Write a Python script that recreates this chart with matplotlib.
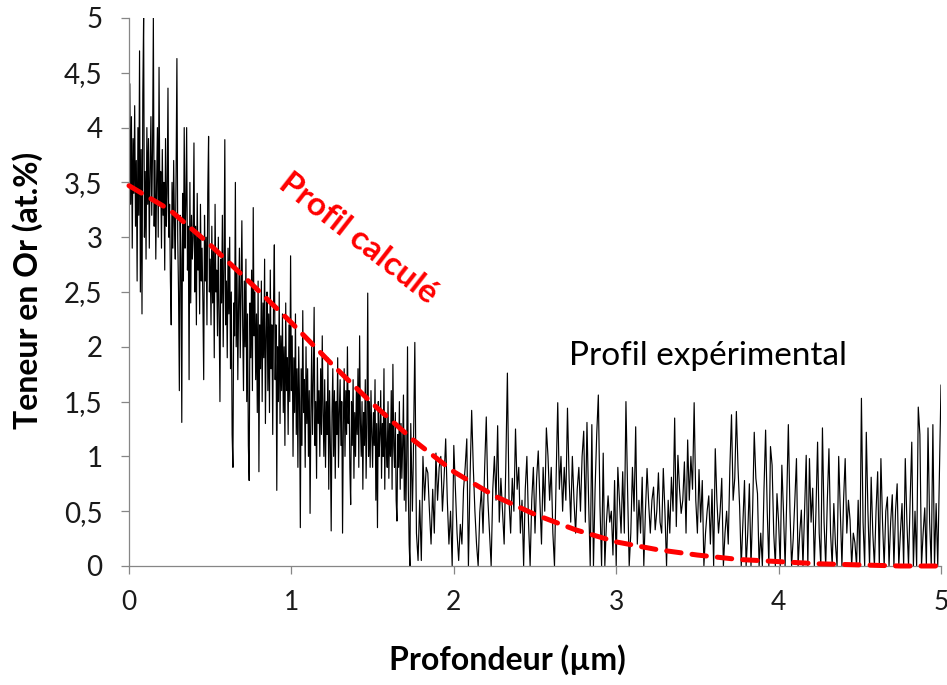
import numpy as np
import matplotlib
matplotlib.use("Agg")
import matplotlib.pyplot as plt

plt.rcParams['font.family'] = ['Lato', 'DejaVu Sans']

# ---- experimental profile (dense part: 0 -> 1.745 um, step 0.005 um) ----
dense_start = 0.0
dense_step = 0.005
exp_dense = [
    3.0, 4.4, 3.3, 4.1, 2.9, 3.9, 3.4, 4.2, 3.1, 3.7,
    2.6, 4.0, 3.2, 4.7, 2.5, 3.8, 2.3, 4.3, 5.0, 3.0,
    3.6, 2.8, 4.0, 3.3, 3.9, 2.9, 3.6, 4.1, 3.2, 3.8,
    5.0, 3.1, 3.7, 2.8, 3.5, 4.0, 3.0, 4.55, 3.3, 3.6,
    2.9, 3.8, 3.2, 3.5, 2.7, 3.9, 3.1, 3.4, 4.36, 3.0,
    3.3, 2.6, 2.2, 3.5, 2.9, 3.7, 3.1, 2.8, 3.6, 4.63,
    3.0, 2.5, 1.6, 3.2, 2.8, 1.31, 3.4, 2.6, 4.0, 2.9,
    3.3, 4.0, 2.7, 3.1, 1.7, 3.5, 2.4, 3.2, 2.8, 3.0,
    3.86, 2.5, 3.1, 2.2, 3.4, 2.7, 3.0, 2.3, 3.3, 2.6,
    2.9, 2.4, 1.7, 3.2, 2.6, 3.0, 2.2, 3.4, 3.92, 2.5,
    2.8, 2.2, 3.1, 2.4, 2.9, 1.9, 3.3, 2.5, 2.7, 2.1,
    3.0, 2.3, 1.5, 2.8, 2.4, 3.2, 2.0, 2.7, 3.89, 2.2,
    2.6, 1.9, 2.9, 2.3, 3.0, 1.8, 2.5, 1.2, 0.9, 2.4,
    2.1, 3.5, 2.0, 2.7, 1.7, 2.4, 2.9, 1.9, 2.5, 3.15,
    2.2, 1.6, 2.6, 2.0, 2.8, 1.5, 2.3, 1.1, 0.78, 2.4,
    1.9, 2.7, 1.6, 3.27, 2.1, 2.5, 1.7, 2.3, 1.4, 2.6,
    0.86, 2.2, 1.8, 2.6, 1.5, 2.4, 1.9, 2.8, 1.3, 2.1,
    2.5, 1.6, 2.3, 1.4, 2.7, 1.8, 2.2, 1.2, 2.4, 2.93,
    1.7, 2.2, 0.69, 2.0, 1.5, 2.5, 1.3, 2.1, 1.6, 2.3,
    1.4, 2.0, 1.1, 2.4, 1.6, 1.9, 1.2, 2.2, 1.5, 2.83,
    1.6, 2.1, 1.0, 1.9, 1.4, 2.3, 1.2, 1.8, 0.9, 2.0,
    1.5, 0.35, 1.8, 1.1, 2.33, 1.4, 1.7, 0.9, 2.0, 1.3,
    1.8, 1.0, 1.6, 0.48, 1.4, 2.0, 1.2, 1.7, 2.36, 1.1,
    1.5, 0.8, 1.9, 1.3, 1.6, 1.0, 1.8, 1.2, 2.1, 1.4,
    1.0, 1.7, 0.9, 1.5, 1.2, 1.9, 0.7, 1.6, 1.1, 0.32,
    1.4, 1.8, 1.0, 1.6, 0.8, 1.5, 1.2, 1.9, 0.9, 1.4,
    1.7, 1.1, 1.5, 0.3, 1.3, 1.8, 1.0, 1.6, 1.2, 2.0,
    1.3, 1.6, 0.9, 0.56, 1.5, 1.1, 1.7, 0.8, 1.4, 1.0,
    1.6, 1.2, 1.8, 0.9, 2.1, 1.3, 1.0, 1.5, 0.7, 1.4,
    1.1, 1.7, 0.8, 1.3, 2.49, 1.0, 1.5, 0.9, 1.6, 1.2,
    0.9, 1.4, 1.1, 1.7, 0.6, 1.3, 0.35, 1.5, 1.0, 1.2,
    1.6, 0.8, 1.3, 1.0, 1.8, 0.7, 1.4, 1.1, 0.9, 1.5,
    0.8, 1.3, 1.0, 1.6, 0.7, 1.84, 1.1, 0.9, 1.4, 0.6,
    0.41, 1.2, 0.9, 1.5, 0.7, 1.3, 0.8, 1.1, 1.56, 0.6,
    1.2, 0.5, 1.0, 2.0, 0.7, 0.2, 0.0, 1.3, 0.9, 0.5,
]

# ---- experimental profile (sparse part: 1.75 -> 5.0 um, step 0.01 um) ----
sparse_start = 1.75
sparse_step = 0.01
exp_sparse = [
    0.9, 2.04, 0.3, 0.05, 0.6, 0.05, 1.0, 0.6, 0.9, 0.85,
    0.5, 0.2, 0.7, 0.3, 1.03, 0.6, 0.9, 1.0, 0.5, 0.8,
    1.16, 0.6, 0.2, 0.5, 0.0, 1.1, 0.7, 0.3, 0.05, 0.38,
    0.2, 0.7, 0.9, 1.16, 0.0, 0.8, 1.42, 0.9, 0.5, 0.2,
    0.0, 0.49, 0.7, 0.3, 0.9, 1.36, 0.6, 0.3, 0.0, 0.7,
    1.0, 0.6, 1.28, 0.4, 0.8, 0.5, 0.2, 0.9, 1.76, 0.6,
    0.3, 0.8, 0.5, 1.25, 0.7, 0.9, 0.3, 0.6, 0.0, 0.7,
    1.0, 0.4, 0.0, 0.6, 0.9, 0.3, 0.8, 1.05, 0.6, 0.2,
    0.9, 0.5, 1.26, 1.0, 0.6, 0.9, 0.3, 0.0, 0.8, 1.49,
    0.7, 1.0, 0.5, 0.9, 0.6, 1.44, 0.8, 0.4, 1.0, 0.6,
    0.3, 0.7, 0.9, 0.5, 1.0, 1.23, 0.4, 1.31, 0.6, 0.0,
    1.29, 0.0, 0.7, 1.2, 1.56, 0.55, 0.0, 1.03, 0.0, 0.4,
    0.64, 0.4, 0.5, 0.1, 0.78, 0.0, 0.9, 0.6, 0.3, 0.86,
    0.3, 1.5, 0.7, 0.0, 0.3, 0.9, 0.5, 1.27, 0.2, 0.6,
    0.3, 0.81, 0.0, 0.5, 0.89, 0.57, 0.3, 0.6, 0.72, 0.33,
    0.5, 0.85, 0.4, 0.3, 0.89, 0.5, 0.0, 0.6, 0.3, 0.81,
    0.5, 1.35, 0.36, 1.01, 0.7, 0.48, 0.6, 0.95, 0.3, 1.15,
    0.6, 1.0, 0.7, 1.49, 0.6, 0.3, 0.88, 0.4, 0.78, 0.0,
    0.3, 0.5, 0.64, 0.2, 0.7, 0.0, 1.07, 0.6, 0.3, 0.5,
    0.8, 0.0, 0.3, 0.5, 0.2, 0.9, 1.38, 0.6, 0.8, 1.41,
    0.9, 0.54, 0.0, 0.4, 0.78, 0.0, 0.3, 0.75, 0.0, 0.5,
    1.22, 0.8, 0.66, 0.0, 0.3, 0.0, 0.7, 1.24, 0.5, 0.0,
    1.09, 0.92, 0.3, 0.0, 0.66, 0.4, 0.0, 0.92, 0.5, 0.0,
    0.6, 1.29, 0.5, 0.0, 0.25, 0.6, 0.98, 0.0, 0.3, 0.51,
    0.0, 0.5, 1.01, 0.0, 0.98, 0.4, 0.71, 0.0, 0.5, 1.13,
    0.3, 0.0, 1.26, 0.4, 0.0, 0.6, 1.07, 0.3, 0.0, 0.57,
    0.2, 0.0, 1.0, 0.5, 0.0, 0.6, 0.98, 0.3, 0.6, 0.42,
    0.0, 0.3, 0.21, 0.0, 0.6, 0.0, 1.53, 0.4, 0.0, 1.22,
    0.5, 0.0, 0.81, 0.3, 0.0, 0.5, 0.86, 0.0, 0.98, 0.4,
    0.0, 0.5, 0.63, 0.0, 0.4, 0.65, 0.0, 0.5, 0.75, 0.0,
    0.3, 0.57, 0.0, 0.98, 0.4, 0.0, 0.6, 1.13, 0.0, 0.5,
    0.0, 1.45, 1.2, 0.0, 0.3, 0.53, 0.0, 1.26, 0.4, 0.0,
    1.29, 0.0, 0.57, 0.0, 0.81, 1.65,
]

# ---- calculated profile ----
calc_depth = [0.0, 0.25, 0.5, 0.75, 1.0, 1.25, 1.5, 1.75, 2.0, 2.25, 2.5,
              2.75, 3.0, 3.25, 3.5, 3.75, 4.0, 4.25, 4.5, 4.75, 5.0]
calc_value = [3.47, 3.25, 2.93, 2.58, 2.22, 1.84, 1.48, 1.15, 0.86, 0.64, 0.47,
              0.33, 0.22, 0.15, 0.10, 0.06, 0.04, 0.02, 0.01, 0.0, 0.0]

x_ticks = [0, 1, 2, 3, 4, 5]
x_tick_labels = ['0', '1', '2', '3', '4', '5']
y_ticks = [0, 0.5, 1, 1.5, 2, 2.5, 3, 3.5, 4, 4.5, 5]
y_tick_labels = ['0', '0,5', '1', '1,5', '2', '2,5', '3', '3,5', '4', '4,5', '5']

exp_depth = np.concatenate([
    dense_start + dense_step * np.arange(len(exp_dense)),
    sparse_start + sparse_step * np.arange(len(exp_sparse)),
])
exp_value = np.array(exp_dense + exp_sparse)

fig = plt.figure(figsize=(9.47, 6.85), dpi=100)
ax = fig.add_axes([129 / 947, 1 - 566 / 685, (941 - 129) / 947, (566 - 18) / 685])

ax.plot(exp_depth, exp_value, color='black', lw=0.85, zorder=2)
ax.plot(calc_depth, calc_value, color='#FF0000', lw=3.6,
        linestyle=(0, (2.9, 2.2)), dash_capstyle='round',
        solid_capstyle='round', zorder=3, clip_on=False)

ax.set_xlim(0, 5)
ax.set_ylim(0, 5)
ax.set_xticks(x_ticks)
ax.set_xticklabels(x_tick_labels)
ax.set_yticks(y_ticks)
ax.set_yticklabels(y_tick_labels)

for side in ['top', 'right']:
    ax.spines[side].set_visible(False)
for side in ['left', 'bottom']:
    ax.spines[side].set_color('#868686')
    ax.spines[side].set_linewidth(0.9)

ax.tick_params(axis='both', direction='out', length=6, width=0.9,
               color='#868686', labelcolor='#1a1a1a')
ax.tick_params(axis='x', pad=11, labelsize=19)
ax.tick_params(axis='y', pad=13, labelsize=20)

ax.set_xlabel('Profondeur (µm)', fontsize=23, fontweight='bold')
ax.set_ylabel('Teneur en Or (at.%)', fontsize=23, fontweight='bold')
ax.xaxis.set_label_coords((507 - 129) / 812, (566 - 660) / 548)
ax.yaxis.set_label_coords((28 - 129) / 812, (566 - 290) / 548)
ax.xaxis.label.set_va('center')
ax.yaxis.label.set_va('center')

ax.text(1.41, 2.99, 'Profil calculé', color='#FF0000', fontsize=24,
        fontweight='bold', rotation=-38, ha='center', va='center',
        rotation_mode='anchor', zorder=4)
ax.text(3.565, 1.92, 'Profil expérimental', color='black', fontsize=24,
        ha='center', va='center', zorder=4)

fig.savefig('out.png', dpi=100)
